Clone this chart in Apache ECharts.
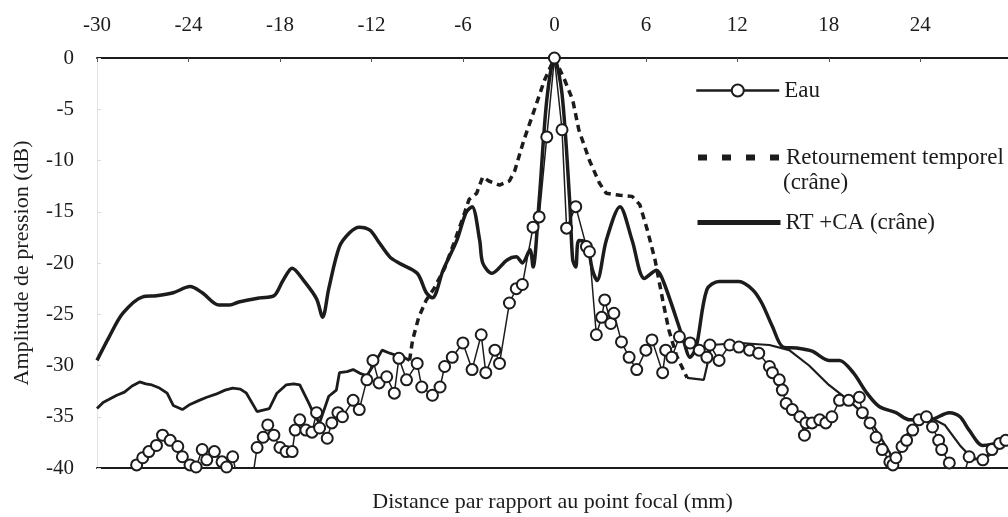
<!DOCTYPE html>
<html>
<head>
<meta charset="utf-8">
<script src="https://cdn.jsdelivr.net/npm/echarts@6/dist/echarts.min.js"></script>
<style>
  html, body { margin: 0; padding: 0; background: #fff; }
  #chart { width: 1008px; height: 517px; }
</style>
</head>
<body>
<div id="chart"></div>
<script>
// Distance from the focal point (mm) and pressure amplitude (dB)
const eauX = [-27.4,-27.0,-26.6,-26.1,-25.7,-25.2,-24.7,-24.4,-23.9,-23.5,-23.1,-22.8,-22.3,-21.8,-21.5,-21.1,-20.8,-20.0,
  -19.5,-19.1,-18.8,-18.4,-18.0,-17.6,-17.2,-17.0,-16.7,-16.3,-15.9,-15.6,-15.4,-14.9,-14.6,-14.2,-13.9,-13.2,-12.8,-12.3,
  -11.9,-11.5,-11.0,-10.5,-10.2,-9.7,-9.0,-8.7,-8.0,-7.5,-7.2,-6.7,-6.0,-5.4,-4.8,-4.5,-3.9,-3.6,-2.95,-2.5,-2.1,-1.4,-1.0,
  -0.5,0,0.5,0.8,1.4,2.1,2.3,2.75,3.1,3.3,3.7,3.9,4.4,4.9,5.4,6.0,6.4,7.1,7.3,7.7,8.2,8.9,9.5,10.0,10.2,10.8,11.5,12.1,12.8,
  13.4,14.1,14.3,14.75,14.95,15.2,15.6,16.1,16.4,16.5,16.9,17.4,17.8,18.2,18.7,19.3,20.0,20.2,20.7,21.1,21.5,22.0,22.2,22.4,
  22.8,23.1,23.5,23.9,24.4,24.8,25.2,25.4,25.9,26.6,27.2,28.1,28.7,29.2,29.6];
const eauDb = [-39.7,-39.0,-38.4,-37.8,-36.8,-37.3,-37.9,-38.9,-39.7,-39.9,-38.2,-39.2,-38.4,-39.4,-39.9,-38.9,-41.0,-43.0,
  -38.0,-37.0,-35.8,-36.8,-38.0,-38.4,-38.4,-36.3,-35.3,-36.3,-36.5,-34.6,-36.1,-37.1,-35.6,-34.6,-35.0,-33.4,-34.3,-31.4,
  -29.5,-31.7,-31.1,-32.7,-29.3,-31.4,-29.8,-32.1,-32.9,-32.1,-30.1,-29.2,-27.8,-30.4,-27.0,-30.7,-28.5,-29.8,-23.9,-22.5,-22.1,-16.5,-15.5,
  -7.7,0,-7.0,-16.6,-14.5,-18.4,-18.9,-27.0,-25.3,-23.6,-25.9,-24.9,-27.7,-29.2,-30.4,-28.5,-27.5,-30.7,-28.5,-29.2,-27.2,-27.8,-28.5,-29.2,-28.0,-29.5,-28.0,-28.2,-28.5,
  -28.8,-30.1,-30.7,-31.4,-32.4,-33.7,-34.3,-35.0,-36.8,-35.6,-35.6,-35.3,-35.6,-35.0,-33.4,-33.4,-33.1,-34.6,-35.6,-37.0,-38.2,-39.4,-39.7,-39.0,
  -37.9,-37.3,-36.3,-35.3,-35.0,-36.0,-37.3,-38.2,-39.5,-42.0,-38.9,-39.2,-38.2,-37.6,-37.3];

const rtX = [-30.0,-29.6,-29.2,-28.7,-28.2,-27.7,-27.2,-26.8,-26.4,-25.9,-25.4,-25.0,-24.4,-23.9,-23.3,-22.8,-22.2,-21.6,-21.1,-20.6,-20.2,
  -19.5,-18.7,-18.2,-17.6,-17.1,-16.7,-16.1,-15.7,-15.4,-14.8,-14.3,-14.1,-13.6,-13.2,-12.7,-12.3,-11.8,-11.3,-10.8,-10.4,-9.9,-9.5,
  -9.3,-8.9,-8.4,-7.9,-7.2,-6.6,-6.0,-5.6,-5.1,-4.7,-4.3,-3.6,-2.95,-2.6,-2.0,
  -1.3,-0.66,0,0.66,1.2,1.6,2.3,2.95,3.4,4.3,5.1,5.6,6.1,6.6,7.1,7.5,8.0,8.7,9.8,10.0,10.3,11.2,12.1,13.1,14.1,15.4,16.7,18.0,19.3,20.7,
  22.0,22.3,22.95,24.3,25.6,26.6,27.5,28.5,29.7];
const rtDb = [-34.2,-33.6,-33.3,-32.9,-32.6,-32.0,-31.6,-31.8,-31.9,-32.2,-32.7,-33.9,-34.3,-33.8,-33.4,-33.1,-32.8,-32.4,-32.2,-32.3,-32.7,
  -34.5,-34.2,-32.7,-31.9,-31.8,-31.9,-33.7,-35.0,-35.6,-33.0,-32.4,-30.7,-30.6,-30.4,-30.8,-31.0,-29.8,-28.5,-28.8,-29.0,-29.2,-29.5,
  -27.5,-25.3,-23.6,-22.5,-20.5,-18.1,-15.6,-13.8,-13.2,-11.6,-12.0,-12.4,-12.0,-11.0,-8.0,
  -5.0,-2.2,0,-2.1,-4.1,-7.0,-10.0,-12.2,-13.2,-13.4,-13.5,-14.3,-16.8,-19.7,-23.6,-26.5,-29.0,-31.2,-31.4,-30.1,-28.0,-27.9,-27.8,-27.9,-28.0,-28.5,-30.0,-31.9,-33.4,-35.3,
  -38.5,-40.5,-37.0,-34.8,-35.8,-37.8,-39.2,-38.8,-37.0];

const rtcaX = [-30.0,-29.2,-28.3,-27.0,-26.1,-25.0,-23.9,-23.1,-22.0,-21.3,-20.7,-19.3,-18.4,-17.8,-17.2,-16.4,-15.6,-15.2,-14.8,
  -14.1,-13.4,-12.8,-12.1,-11.5,-10.8,-10.2,-9.0,-8.4,-8.0,-7.3,-6.4,-5.8,-5.4,-4.9,-4.7,-4.1,-3.1,-2.5,-2.1,-1.6,-1.4,-1.0,
  -0.5,0,0.5,1.0,1.2,1.4,1.6,2.1,2.5,2.8,3.4,4.3,5.1,5.9,6.7,7.2,8.4,8.9,9.3,10.0,10.8,12.1,13.0,13.6,14.3,15.0,15.9,16.9,
  18.0,18.7,19.6,20.5,21.3,22.4,23.3,24.6,25.9,26.6,27.2,28.1,29.7];
const rtcaDb = [-29.5,-27.2,-24.9,-23.3,-23.2,-22.9,-22.3,-22.9,-24.1,-24.1,-23.8,-23.4,-23.2,-21.7,-20.5,-21.8,-23.5,-25.3,-22.5,
  -18.4,-17.0,-16.5,-16.8,-18.0,-19.4,-20.0,-21.0,-22.9,-23.4,-20.7,-17.8,-15.1,-14.5,-17.8,-20.0,-21.0,-19.7,-19.4,-20.0,-18.7,-20.4,-13.9,
  -4.1,0,-3.5,-13.9,-19.7,-20.4,-17.8,-18.0,-20.7,-21.7,-17.8,-14.5,-17.8,-21.5,-20.7,-22.0,-27.2,-29.2,-28.2,-22.6,-21.8,-21.8,-22.6,-23.9,-26.2,-28.2,-28.3,-28.6,
  -29.5,-29.5,-30.7,-32.7,-34.0,-34.6,-35.3,-35.3,-34.6,-35.0,-36.3,-37.8,-37.3];

// Steep stretch of the time-reversal curve, where its dashes stay visible
const rtDashedFrom = -9.5;
const rtDashedTo = 8.7;

const distanceTicks = [-30, -24, -18, -12, -6, 0, 6, 12, 18, 24];
const levelTicks = [0, -5, -10, -15, -20, -25, -30, -35, -40];

const seriesNames = ['Eau', 'Retournement temporel (crâne)', 'RT +CA (crâne)'];

const pairs = (xs, ys) => xs.map((x, i) => [x, ys[i]]);
const rtPoints = pairs(rtX, rtDb);
const rtLeft = rtPoints.filter(p => p[0] <= rtDashedFrom);
const rtMid = rtPoints.filter(p => p[0] >= rtDashedFrom && p[0] <= rtDashedTo);
const rtRight = rtPoints.filter(p => p[0] >= rtDashedTo);

const ink = '#1c1c1c';
const serif = '"Liberation Serif", "DejaVu Serif", serif';

const chart = echarts.init(document.getElementById('chart'), null, { renderer: 'canvas' });

const rtSolid = (data, width) => ({
  name: seriesNames[1], type: 'line', xAxisIndex: 0,
  data, showSymbol: false, symbol: 'none',
  lineStyle: { color: ink, width },
  itemStyle: { color: ink },
  z: 3
});

chart.setOption({
  animation: false,
  backgroundColor: '#ffffff',
  textStyle: { fontFamily: serif, color: ink },
  grid: { left: 97, right: 0, top: 58, bottom: 49, containLabel: false, outerBoundsMode: 'none' },
  xAxis: [
    {
      type: 'value', position: 'top',
      min: distanceTicks[0], max: 29.75, interval: 6,
      axisLine: { show: true, onZero: false, lineStyle: { color: ink, width: 2 } },
      axisTick: { show: true, inside: true, length: 4, lineStyle: { color: '#555', width: 1 } },
      axisLabel: {
        show: true, margin: 22, fontSize: 21, fontFamily: serif, color: ink,
        showMaxLabel: false,
        formatter: v => distanceTicks.includes(v) ? String(v) : ''
      },
      splitLine: { show: false }
    },
    {
      type: 'value', position: 'bottom',
      min: distanceTicks[0], max: 29.75, interval: 6,
      name: 'Distance par rapport au point focal (mm)',
      nameLocation: 'middle', nameGap: 23,
      nameTextStyle: { fontSize: 22, fontFamily: serif, color: ink },
      axisLine: { show: true, onZero: false, lineStyle: { color: ink, width: 2 } },
      axisTick: { show: false },
      axisLabel: { show: false },
      splitLine: { show: false }
    }
  ],
  yAxis: {
    type: 'value',
    min: levelTicks[levelTicks.length - 1], max: levelTicks[0], interval: 5,
    name: 'Amplitude de pression (dB)',
    nameLocation: 'middle', nameGap: 64, nameRotate: 90,
    nameTextStyle: { fontSize: 22, fontFamily: serif, color: ink },
    axisLine: { show: true, onZero: false, lineStyle: { color: '#e4e4e4', width: 1 } },
    axisTick: { show: true, inside: true, length: 4, lineStyle: { color: '#dcdcdc' } },
    axisLabel: {
      margin: 23, fontSize: 21, fontFamily: serif, color: ink,
      formatter: v => levelTicks.includes(v) ? String(v) : ''
    },
    splitLine: { show: false }
  },
  legend: [
    {
      data: [seriesNames[0]], left: 690, top: 74,
      itemWidth: 83, itemHeight: 15, itemGap: 0,
      textStyle: { fontSize: 23, fontFamily: serif, color: ink },
      lineStyle: { width: 2.5 },
      itemStyle: { borderWidth: 2.5 }
    },
    {
      data: [seriesNames[1]], left: 690, top: 141,
      itemWidth: 83, itemHeight: 15,
      formatter: () => 'Retournement temporel',
      textStyle: { fontSize: 23, fontFamily: serif, color: ink },
      lineStyle: { width: 6, type: [9, 15] },
      itemStyle: { opacity: 0 }
    },
    {
      data: [seriesNames[2]], left: 690, top: 206,
      itemWidth: 83, itemHeight: 15,
      textStyle: { fontSize: 23, fontFamily: serif, color: ink },
      lineStyle: { width: 5 },
      itemStyle: { opacity: 0 }
    }
  ],
  graphic: [
    {
      type: 'text', left: 783, top: 171,
      style: { text: '(crâne)', font: '23px ' + serif, fill: ink }
    }
  ],
  series: [
    {
      name: seriesNames[2], type: 'line', xAxisIndex: 0,
      data: pairs(rtcaX, rtcaDb),
      smooth: 0.3, showSymbol: false, symbol: 'none',
      lineStyle: { color: ink, width: 3.5 },
      itemStyle: { color: ink },
      z: 2
    },
    {
      name: seriesNames[1], type: 'line', xAxisIndex: 0,
      data: rtMid,
      showSymbol: false, symbol: 'none',
      lineStyle: { color: ink, width: 3.5, type: [7, 5] },
      itemStyle: { color: ink },
      z: 3
    },
    rtSolid(rtLeft, 2.8),
    rtSolid(rtRight, 2.2),
    {
      name: seriesNames[0], type: 'line', xAxisIndex: 0,
      data: pairs(eauX, eauDb),
      symbol: 'emptyCircle', symbolSize: 11, showAllSymbol: true,
      lineStyle: { color: ink, width: 1.5 },
      itemStyle: { color: ink, borderWidth: 2.5 },
      z: 4
    }
  ]
});
</script>
</body>
</html>
